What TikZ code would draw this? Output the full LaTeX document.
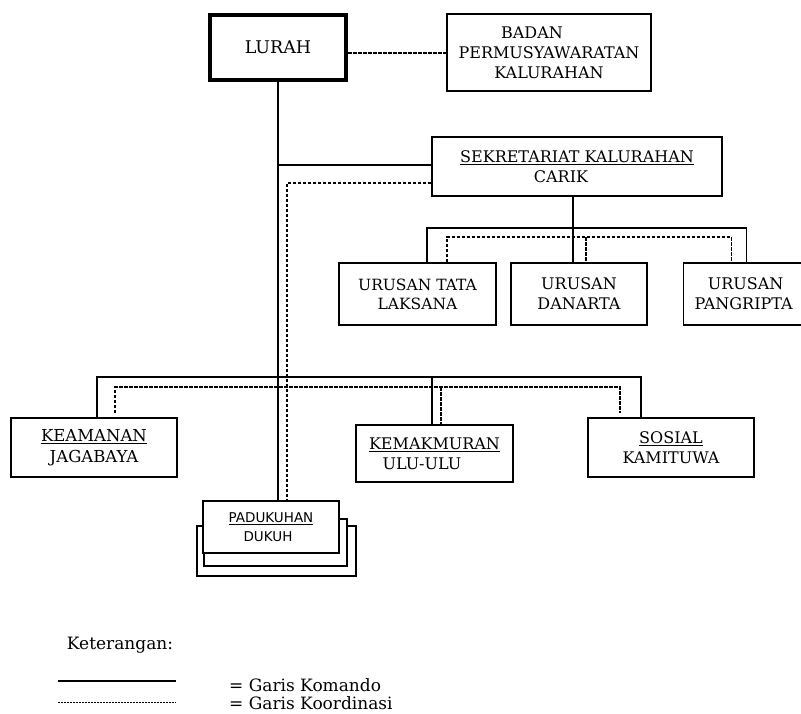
\documentclass[tikz,border=0pt]{standalone}
\usepackage{fontspec}
\setmainfont{DejaVu Serif}
\newfontfamily\padufont{DejaVu Sans}
\usetikzlibrary{calc}
\tikzset{
  box/.style={draw, line width=1.3pt, fill=white, inner sep=0pt, align=center, font=\fontsize{16}{20}\selectfont},
  cmd/.style={draw, line width=1.3pt},
  coord/.style={draw, line width=1.1pt, dash pattern=on 3.5pt off 1.5pt},
}
\begin{document}
\begin{tikzpicture}[x=1pt, y=-1pt]
\useasboundingbox (0,0) rectangle (801,713);
% boxes
\node[box, line width=4pt, minimum width=136pt, minimum height=65pt, font=\fontsize{17.5}{20}\selectfont] (lurah) at (278,47.5) {LURAH};
\node[box, minimum width=204pt, minimum height=77pt] (badan) at (549,52.5) {BADAN\kern 34pt\\PERMUSYAWARATAN\\KALURAHAN};
\node[box, minimum width=290pt, minimum height=59pt] (sek) at (577,166.5) {\underline{SEKRETARIAT KALURAHAN}\\CARIK\kern 32pt};
\node[box, minimum width=157pt, minimum height=62pt, font=\fontsize{15.5}{19}\selectfont] (tata) at (417.5,294) {URUSAN TATA\\LAKSANA};
\node[box, minimum width=136pt, minimum height=62pt] (danarta) at (579,294) {URUSAN\\DANARTA};
\node[box, minimum width=124pt, minimum height=62pt, anchor=west] (pang) at (683,294) {URUSAN\\PANGRIPTA\kern 4pt};
\node[box, minimum width=166pt, minimum height=59pt, font=\fontsize{16.5}{21}\selectfont] (keam) at (94,447.5) {\underline{KEAMANAN}\\JAGABAYA};
\node[box, minimum width=157pt, minimum height=57pt] (kemak) at (434.5,453.5) {\underline{KEMAKMURAN}\\ULU-ULU\kern 25pt};
\node[box, minimum width=166pt, minimum height=59pt] (sos) at (671,447.5) {\underline{SOSIAL}\\KAMITUWA};
% padukuhan stack
\node[box, minimum width=159pt, minimum height=50pt] (padu3) at (276.5,551) {};
\node[box, minimum width=143pt, minimum height=47pt] (padu2) at (275.5,542.5) {};
\node[box, minimum width=136pt, minimum height=52pt, font=\padufont\fontsize{13.5}{19}\selectfont] (padu) at (271,527) {\underline{PADUKUHAN}\\DUKUH\kern 6pt};
% junction coordinates
\coordinate (jb) at (0,53);
\coordinate (js) at (0,165);
\coordinate (jd) at (287,183);
\coordinate (busA) at (0,228);
\coordinate (busB) at (0,237);
\coordinate (busC) at (0,377);
\coordinate (busD) at (0,387);
\coordinate (endD) at (0,413);
\coordinate (ck) at ($(sek.south)+(-4,0)$);
\coordinate (ta1) at ($(tata.north)+(9.5,0)$);
\coordinate (ta2) at ($(tata.north)+(29.5,0)$);
\coordinate (da2) at ($(danarta.north)+(7,0)$);
\coordinate (pa1) at ($(pang.north)+(1,0)$);
\coordinate (pa2) at ($(pang.north)+(-14,0)$);
\coordinate (ke1) at ($(keam.north)+(3,0)$);
\coordinate (ke2) at ($(keam.north)+(21,0)$);
\coordinate (km1) at ($(kemak.north)+(-2.5,0)$);
\coordinate (km2) at ($(kemak.north)+(6.5,0)$);
\coordinate (so1) at ($(sos.north)+(-30,0)$);
\coordinate (so2) at ($(sos.north)+(-51,0)$);
% Lurah - Badan
\draw[coord] (lurah.east |- jb) -- (badan.west |- jb);
% Lurah main line
\draw[cmd] (lurah.south) -- (lurah.south |- padu.north);
\draw[cmd] (sek.west |- js) -- (lurah.south |- js);
\draw[coord] (sek.west |- jd) -- (jd) -- (jd |- padu.north);
% Carik tree
\draw[cmd] (ck) -- (ck |- danarta.north);
\draw[cmd] (ta1) -- (ta1 |- busA) -- (pa1 |- busA) -- (pa1);
\draw[coord] (ta2) -- (ta2 |- busB) -- (pa2 |- busB) -- (pa2);
\draw[coord] (da2 |- busB) -- (da2);
% bottom bus
\draw[cmd] (ke1) -- (ke1 |- busC) -- (so1 |- busC) -- (so1);
\draw[cmd] (km1 |- busC) -- (km1);
\draw[coord] (ke2 |- endD) -- (ke2 |- busD) -- (so2 |- busD) -- (so2 |- endD);
\draw[coord] (km2 |- busD) -- (km2);
% legend
\node[font=\fontsize{17}{20}\selectfont] (ket) at (120,645) {Keterangan:};
\coordinate (l1a) at (58,681);
\coordinate (l1b) at (176,681);
\coordinate (l2a) at (58,702);
\coordinate (l2b) at (176,702);
\draw[cmd] (l1a) -- (l1b);
\draw[coord, line width=0.8pt, dash pattern=on 2pt off 1pt] (l2a) -- (l2b);
\node[anchor=west, inner sep=0pt, font=\fontsize{17}{20}\selectfont] (gk) at (229,685) {= Garis Komando};
\node[anchor=west, inner sep=0pt, font=\fontsize{17}{20}\selectfont] (gko) at (229,703) {= Garis Koordinasi};
\end{tikzpicture}
\end{document}
